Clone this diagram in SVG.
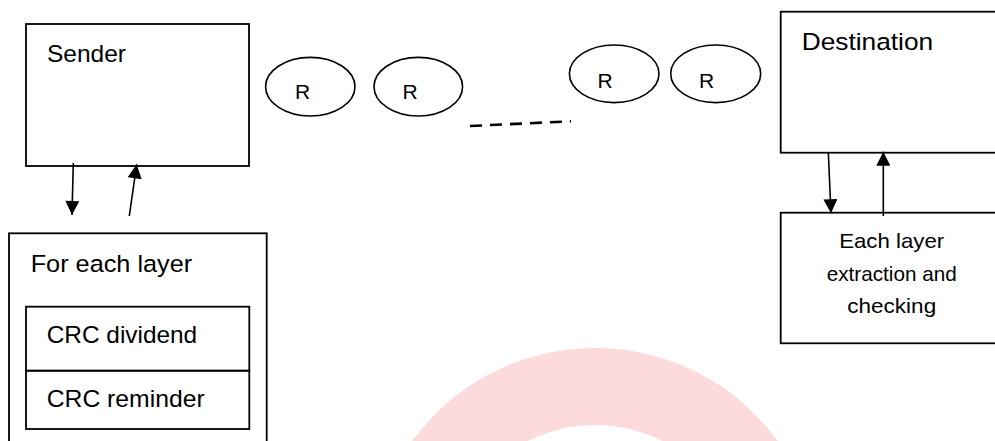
<svg xmlns="http://www.w3.org/2000/svg" width="995" height="441" viewBox="0 0 995 441">
  <style>
    .box { fill: none; stroke: #000; stroke-width: 1.8; }
    .router { fill: none; stroke: #000; stroke-width: 1.6; }
    .lbl { font-family: "Liberation Sans", Arial, sans-serif; font-size: 24.5px; fill: #000; }
    .r { font-family: "Liberation Sans", Arial, sans-serif; font-size: 21px; fill: #000; }
    .sm { font-family: "Liberation Sans", Arial, sans-serif; font-size: 21px; fill: #000; text-anchor: middle; }
    .arrow { stroke: #000; stroke-width: 1.6; fill: none; marker-end: url(#head); }
    .dash { stroke: #000; stroke-width: 2.6; stroke-dasharray: 12 8; fill: none; }
  </style>
  <defs>
    <marker id="head" viewBox="0 0 10 10" refX="10" refY="5" markerWidth="15" markerHeight="14" markerUnits="userSpaceOnUse" orient="auto">
      <path d="M0,0 L10,5 L0,10 z" fill="#000"/>
    </marker>
  </defs>
  <rect width="995" height="441" fill="#fff"/>
  <g id="watermark">
    <circle cx="595" cy="574" r="187.5" fill="none" stroke="#FDDADC" stroke-width="77"/>
  </g>
  <g id="sender">
    <rect class="box" x="26" y="24" width="223" height="142"/>
    <text class="lbl" x="47" y="61.7" textLength="79" lengthAdjust="spacingAndGlyphs">Sender</text>
  </g>
  <g id="router1">
    <ellipse class="router" cx="310.3" cy="86.7" rx="44.7" ry="29.3"/>
    <text class="r" x="295" y="99.3">R</text>
  </g>
  <g id="router2">
    <ellipse class="router" cx="418.3" cy="86.7" rx="44.3" ry="29.3"/>
    <text class="r" x="402.5" y="99.3">R</text>
  </g>
  <g id="router3">
    <ellipse class="router" cx="614.2" cy="73.8" rx="44.8" ry="28.8"/>
    <text class="r" x="597.5" y="87.7">R</text>
  </g>
  <g id="router4">
    <ellipse class="router" cx="715.7" cy="73.8" rx="45" ry="28.8"/>
    <text class="r" x="699" y="87.7">R</text>
  </g>
  <g id="destination">
    <rect class="box" x="780.7" y="11.7" width="230" height="141"/>
    <text class="lbl" x="801.7" y="50" textLength="131.5" lengthAdjust="spacingAndGlyphs">Destination</text>
  </g>
  <g id="layer-box">
    <rect class="box" x="9" y="233.3" width="257.7" height="230"/>
    <text class="lbl" x="30.7" y="271.7" textLength="161.5" lengthAdjust="spacingAndGlyphs">For each layer</text>
  </g>
  <g id="crc-dividend">
    <rect class="box" x="26" y="306.7" width="223.3" height="64"/>
    <text class="lbl" x="46.7" y="343.3" textLength="150.5" lengthAdjust="spacingAndGlyphs">CRC dividend</text>
  </g>
  <g id="crc-reminder">
    <rect class="box" x="26" y="370.7" width="223.3" height="58.3"/>
    <text class="lbl" x="46.7" y="406.7" textLength="158" lengthAdjust="spacingAndGlyphs">CRC reminder</text>
  </g>
  <g id="checking">
    <rect class="box" x="780.7" y="212.7" width="230" height="130.6"/>
    <text class="sm" x="891.7" y="248.3" textLength="105" lengthAdjust="spacingAndGlyphs">Each layer</text>
    <text class="sm" x="891.7" y="281" textLength="130" lengthAdjust="spacingAndGlyphs">extraction and</text>
    <text class="sm" x="891.7" y="313" textLength="89" lengthAdjust="spacingAndGlyphs">checking</text>
  </g>
  <g id="connectors">
    <line class="arrow" x1="73.3" y1="163" x2="72" y2="215"/>
    <line class="arrow" x1="129.3" y1="216" x2="136.7" y2="164.3"/>
    <line class="arrow" x1="828.3" y1="152" x2="831" y2="213.3"/>
    <line class="arrow" x1="883.3" y1="216" x2="883.3" y2="151.7"/>
    <line class="dash" x1="470" y1="126" x2="571" y2="121.3"/>
  </g>
</svg>
